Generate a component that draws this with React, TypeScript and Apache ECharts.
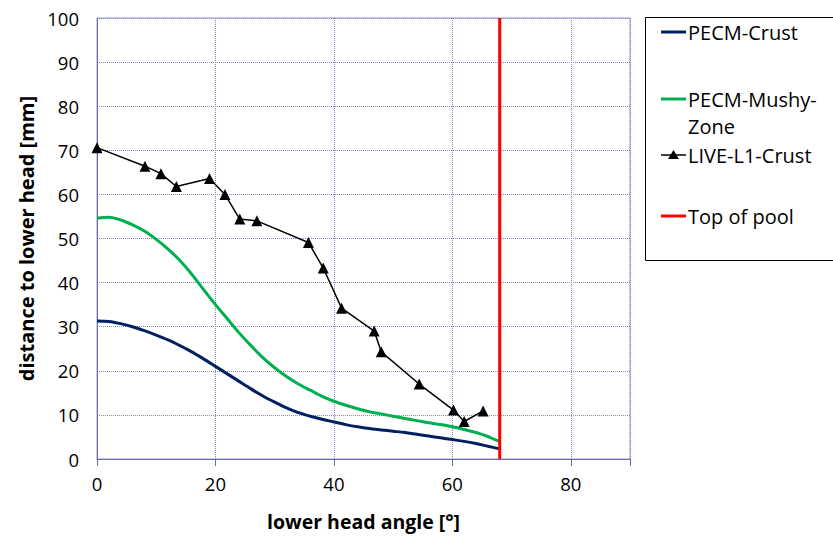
import React, { useEffect, useRef } from "react";
import * as echarts from "echarts";

const crustX = [0, 2, 4, 6, 8, 10, 12, 14, 16, 18, 20, 22, 24, 26, 28, 30, 32, 34, 36, 38, 40, 42, 44, 46, 48, 50, 52, 54, 56, 58, 60, 62, 64, 66, 68];
const crustY = [31.3, 31.2, 30.7, 30.0, 29.1, 28.1, 27.0, 25.7, 24.3, 22.7, 21.0, 19.3, 17.6, 15.9, 14.3, 12.9, 11.6, 10.5, 9.7, 9.0, 8.4, 7.8, 7.3, 6.9, 6.6, 6.3, 6.0, 5.6, 5.2, 4.8, 4.4, 4.0, 3.5, 2.9, 2.3];

const mushyX = [0, 2, 4, 6, 8, 10, 12, 14, 16, 18, 20, 22, 24, 26, 28, 30, 32, 34, 36, 38, 40, 42, 44, 46, 48, 50, 52, 54, 56, 58, 60, 62, 64, 66, 67, 68];
const mushyY = [54.6, 54.8, 54.2, 53.1, 51.7, 49.8, 47.6, 45.0, 41.9, 38.4, 35.0, 31.8, 28.6, 25.7, 23.0, 20.7, 18.7, 17.0, 15.6, 14.2, 13.1, 12.2, 11.4, 10.7, 10.2, 9.7, 9.2, 8.7, 8.2, 7.8, 7.3, 6.7, 6.0, 5.1, 4.5, 4.0];

const liveX = [0, 8.1, 10.8, 13.4, 19.0, 21.6, 24.1, 27.0, 35.7, 38.2, 41.3, 46.8, 48.0, 54.4, 60.2, 62.0, 65.2];
const liveY = [70.6, 66.4, 64.7, 61.8, 63.6, 60.0, 54.4, 54.0, 49.1, 43.3, 34.2, 29.0, 24.3, 17.0, 11.1, 8.5, 10.9];

const poolX = [68, 68];
const poolY = [0, 100];

const seriesNames = ["PECM-Crust", "PECM-Mushy-Zone", "LIVE-L1-Crust", "Top of pool"];
const legendLabels = [["PECM-Crust"], ["PECM-Mushy-", "Zone"], ["LIVE-L1-Crust"], ["Top of pool"]];
const seriesColors = ["#002060", "#00B050", "#000000", "#FF0000"];

const FONT = "'Open Sans', sans-serif";

const zip = (xs: number[], ys: number[]) => xs.map((x, i) => [x, ys[i]]);

export default function App() {
  const ref = useRef<HTMLDivElement>(null);
  useEffect(() => {
    if (!ref.current) return;
    const chart = echarts.init(ref.current, null, { renderer: "svg" });
    const legendX = 661;
    const legendRowY = [32, 99, 155, 216];
    const legendGraphics: any[] = [
      {
        type: "rect",
        shape: { x: 645.5, y: 17.5, width: 200, height: 243 },
        style: { fill: "#fff", stroke: "#000", lineWidth: 1 },
      },
    ];
    legendRowY.forEach((y, i) => {
      legendGraphics.push({
        type: "line",
        shape: { x1: legendX, y1: y, x2: legendX + 25, y2: y },
        style: { stroke: seriesColors[i], lineWidth: i === 2 ? 1.5 : 3 },
      });
      if (i === 2) {
        legendGraphics.push({
          type: "polygon",
          shape: { points: [[legendX + 12.5, y - 5], [legendX + 18, y + 4], [legendX + 7, y + 4]] },
          style: { fill: "#000" },
        });
      }
      legendLabels[i].forEach((t, j) => {
        legendGraphics.push({
          type: "text",
          x: legendX + 27,
          y: y + j * 27,
          style: {
            text: t,
            font: `20px ${FONT}`,
            fill: "#000",
            verticalAlign: "middle",
            align: "left",
          },
        });
      });
    });

    chart.setOption({
      animation: false,
      backgroundColor: "#fff",
      grid: {
        left: 97,
        top: 18,
        right: 203,
        bottom: 75,
        show: true,
        borderColor: "#9A9AD0",
        borderWidth: 1,
      },
      xAxis: {
        type: "value",
        min: 0,
        max: 90,
        interval: 20,
        name: "lower head angle [°]",
        nameLocation: "middle",
        nameGap: 52,
        nameTextStyle: { fontFamily: FONT, fontSize: 19.5, fontWeight: "bold", color: "#000" },
        axisLine: { show: true, lineStyle: { color: "#6B6BAE", width: 1 } },
        axisTick: { show: true, length: 7, lineStyle: { color: "#6B6BAE" } },
        axisLabel: {
          fontFamily: FONT,
          fontSize: 18.5,
          color: "#000",
          margin: 15,
          formatter: (v: number) => (v === 90 ? "" : String(v)),
        },
        splitLine: { show: true, lineStyle: { color: "#8484C8", type: [1, 1], width: 1 } },
      },
      yAxis: {
        type: "value",
        min: 0,
        max: 100,
        interval: 10,
        name: "distance to lower head [mm]",
        nameLocation: "middle",
        nameGap: 60,
        nameTextStyle: { fontFamily: FONT, fontSize: 20, fontWeight: "bold", color: "#000" },
        axisLine: { show: true, lineStyle: { color: "#6B6BAE", width: 1 } },
        axisTick: { show: false },
        axisLabel: { fontFamily: FONT, fontSize: 18.5, color: "#000", margin: 18 },
        splitLine: { show: true, lineStyle: { color: "#8484C8", type: [1, 1], width: 1 } },
      },
      graphic: legendGraphics,
      series: [
        {
          name: seriesNames[0],
          type: "line",
          data: zip(crustX, crustY),
          smooth: 0.3,
          showSymbol: false,
          symbol: "none",
          lineStyle: { color: seriesColors[0], width: 3 },
          z: 3,
        },
        {
          name: seriesNames[1],
          type: "line",
          data: zip(mushyX, mushyY),
          smooth: 0.3,
          showSymbol: false,
          symbol: "none",
          lineStyle: { color: seriesColors[1], width: 3 },
          z: 3,
        },
        {
          name: seriesNames[2],
          type: "line",
          data: zip(liveX, liveY),
          symbol: "triangle",
          symbolSize: 11,
          itemStyle: { color: seriesColors[2] },
          lineStyle: { color: seriesColors[2], width: 1.5 },
          z: 4,
        },
        {
          name: seriesNames[3],
          type: "line",
          data: zip(poolX, poolY),
          symbol: "none",
          lineStyle: { color: seriesColors[3], width: 3 },
          z: 5,
        },
      ],
    });
    return () => chart.dispose();
  }, []);
  return <div ref={ref} style={{ width: 833, height: 536, position: "absolute", left: 0, top: 0 }} />;
}
